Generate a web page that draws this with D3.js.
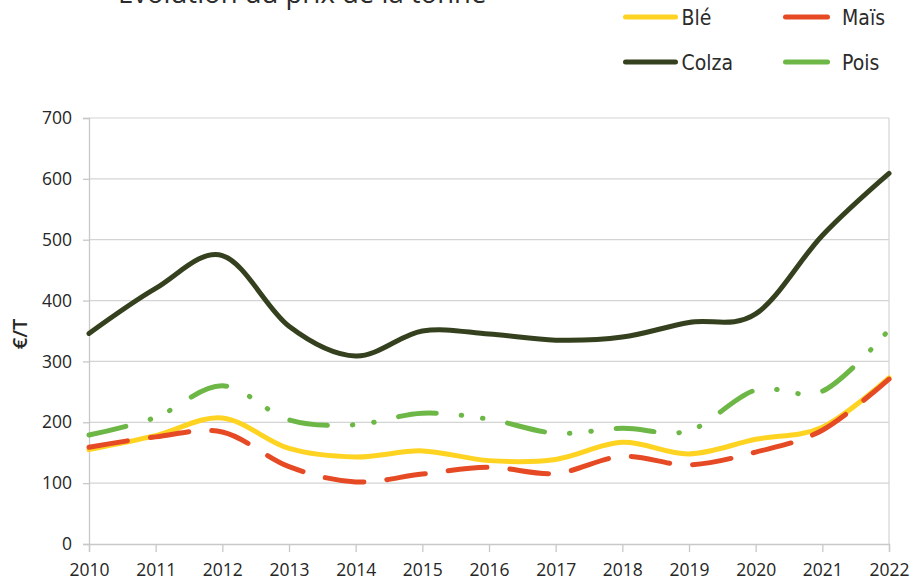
<!DOCTYPE html>
<html>
<head>
<meta charset="utf-8">
<script src="https://cdn.jsdelivr.net/npm/d3@7"></script>
<style>
  html, body { margin: 0; padding: 0; background: #fff; }
  svg { display: block; font-family: "Open Sans", "Segoe UI", sans-serif; }
</style>
</head>
<body>
<svg id="chart" width="917" height="587"></svg>
<script>
// Prix de la tonne (€/T), 2010–2022
const years = [2010, 2011, 2012, 2013, 2014, 2015, 2016, 2017, 2018, 2019, 2020, 2021, 2022];
const ble   = [155, 178, 207, 157, 143, 153, 137, 139, 167, 148, 172, 192, 273];
const mais  = [159, 176, 184, 127, 102, 115, 126, 116, 144, 130, 151, 187, 271];
const colza = [346, 420, 474, 358, 309, 350, 345, 335, 340, 364, 378, 507, 609];
const pois  = [179, 208, 260, 204, 196, 215, 205, 182, 190, 186, 253, 251, 352];
const yTicks = [0, 100, 200, 300, 400, 500, 600, 700];

const series = [
  { name: "Blé",   values: ble,   color: "#FFD322", dash: null },
  { name: "Maïs",  values: mais,  color: "#E64A24", dash: "39,23" },
  { name: "Colza", values: colza, color: "#35411E", dash: null },
  { name: "Pois",  values: pois,  color: "#6DB746", dash: "38,25,0.5,21,0.5,25" }
];

const svg = d3.select("#chart");
const plotLeft = 89, plotRight = 889, plotTop = 118, plotBottom = 544;

const x = d3.scaleLinear().domain([2010, 2022]).range([plotLeft, plotRight]);
const y = d3.scaleLinear().domain([0, 700]).range([plotBottom, plotTop]);

// Title (sits against the top edge)
svg.append("text")
  .attr("x", 118).attr("y", 3)
  .attr("font-size", 27.5)
  .attr("fill", "#2b2b2b")
  .text("Evolution du prix de la tonne");

// Horizontal gridlines
svg.append("g")
  .selectAll("line")
  .data(yTicks.filter(d => d > 0))
  .join("line")
  .attr("x1", plotLeft).attr("x2", plotRight)
  .attr("y1", d => y(d)).attr("y2", d => y(d))
  .attr("stroke", "#d4d4d4").attr("stroke-width", 1.2);

// Right border of the plot area
svg.append("line")
  .attr("x1", plotRight).attr("x2", plotRight)
  .attr("y1", plotTop).attr("y2", plotBottom)
  .attr("stroke", "#d4d4d4").attr("stroke-width", 1.2);

// Y axis
const yAxis = svg.append("g")
  .attr("transform", `translate(${plotLeft},0)`)
  .call(d3.axisLeft(y).tickValues(yTicks).tickSize(6).tickPadding(11).tickFormat(d3.format("d")));
yAxis.select(".domain").attr("stroke", "#c8c8c8").attr("stroke-width", 1.3);
yAxis.selectAll(".tick line").attr("stroke", "#c8c8c8").attr("stroke-width", 1.3);
yAxis.selectAll(".tick text").attr("font-size", 17.5).attr("fill", "#262626")
  .attr("font-family", "'Open Sans', sans-serif");

// X axis
const xAxis = svg.append("g")
  .attr("transform", `translate(0,${plotBottom})`)
  .call(d3.axisBottom(x).tickValues(years).tickSize(8).tickPadding(12).tickFormat(d3.format("d")));
xAxis.select(".domain").attr("stroke", "#c8c8c8").attr("stroke-width", 1.3);
xAxis.selectAll(".tick line").attr("stroke", "#c8c8c8").attr("stroke-width", 1.3);
xAxis.selectAll(".tick text").attr("font-size", 17.5).attr("fill", "#262626")
  .attr("font-family", "'Open Sans', sans-serif");

// Y axis title
svg.append("text")
  .attr("transform", `translate(27,334) rotate(-90)`)
  .attr("text-anchor", "middle")
  .attr("font-size", 20).attr("font-weight", 600).attr("fill", "#262626")
  .text("€/T");

// Smoothed series lines
const line = d3.line()
  .x((d, i) => x(years[i]))
  .y(d => y(d))
  .curve(d3.curveCatmullRom.alpha(0));

svg.append("g")
  .selectAll("path")
  .data(series)
  .join("path")
  .attr("d", d => line(d.values))
  .attr("fill", "none")
  .attr("stroke", d => d.color)
  .attr("stroke-width", 5)
  .attr("stroke-linecap", "round")
  .attr("stroke-linejoin", "round")
  .attr("stroke-dasharray", d => d.dash);

// Legend (2 x 2)
const legendPos = [
  { x: 625.5, y: 17, len: 50, tx: 56 },
  { x: 785.5, y: 17, len: 42, tx: 56.5 },
  { x: 625.5, y: 62, len: 50, tx: 56 },
  { x: 785.5, y: 62, len: 42, tx: 56.5 }
];
const legend = svg.append("g")
  .selectAll("g")
  .data(series)
  .join("g")
  .attr("transform", (d, i) => `translate(${legendPos[i].x},${legendPos[i].y})`);
legend.append("line")
  .attr("x1", 0).attr("x2", (d, i) => legendPos[i].len)
  .attr("stroke", d => d.color).attr("stroke-width", 5)
  .attr("stroke-linecap", "round");
legend.append("text")
  .attr("x", (d, i) => legendPos[i].tx).attr("y", 8)
  .attr("font-family", "'Liberation Sans Narrow', 'DejaVu Sans Condensed', sans-serif")
  .attr("font-size", 21).attr("fill", "#2b2b2b")
  .text(d => d.name);
</script>
</body>
</html>
